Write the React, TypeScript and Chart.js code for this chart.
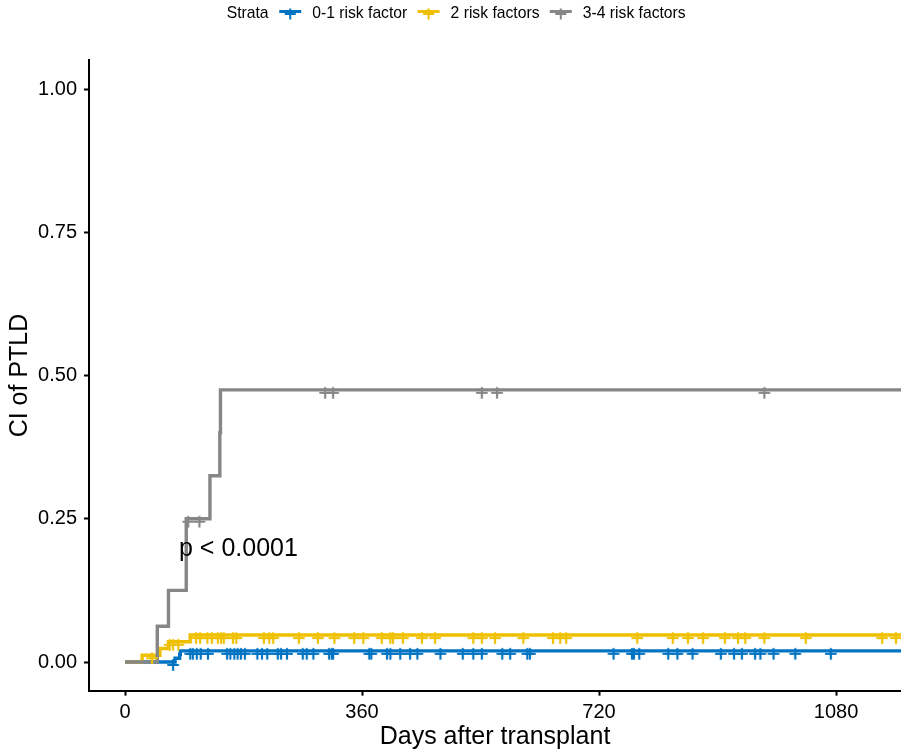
import React, { useEffect, useRef } from 'react';
import { Chart, registerables } from 'chart.js';

Chart.register(...registerables);

const FONT = "'Liberation Sans', Arial, Helvetica, sans-serif";

// ---- data ----
const seriesNames = ['0-1 risk factor', '2 risk factors', '3-4 risk factors'];
const seriesColors = ['#0073C2', '#EFC000', '#868686'];

// step times (days) and cumulative incidence after each step
const blueTimes = [0, 76, 83, 84, 1200];
const blueCI = [0, 0.0066, 0.013, 0.0195, 0.0195];
const yellowTimes = [0, 26, 53, 66, 99, 1200];
const yellowCI = [0, 0.0118, 0.0236, 0.0353, 0.047, 0.047];
const grayTimes = [0, 49, 66, 93, 129, 144, 145, 1200];
const grayCI = [0, 0.0625, 0.125, 0.25, 0.325, 0.4, 0.475, 0.475];

// censoring times (days)
const blueCensor = [
  73, 99, 103, 109, 115, 126, 155, 160, 166, 171, 176, 182, 201, 208, 216, 232, 237, 246,
  270, 276, 286, 310, 314, 316, 371, 374, 398, 403, 418, 433, 444, 479, 513, 529, 542,
  573, 585, 611, 615, 742, 770, 773, 781, 825, 839, 862, 905, 925, 937, 957, 965, 985,
  1018, 1072,
];
const yellowCensor = [
  41, 68, 73, 81, 108, 114, 125, 132, 141, 146, 150, 164, 169, 211, 219, 225, 264, 293,
  318, 348, 362, 390, 403, 407, 422, 451, 471, 529, 542, 562, 605, 650, 661, 670, 778,
  832, 855, 878, 911, 931, 942, 971, 1034, 1150, 1171,
];
const grayCensor = [96, 113, 304, 316, 542, 565, 971];

const xTicks = [0, 360, 720, 1080];
const yTicks = [0, 0.25, 0.5, 0.75, 1];
const xLimits = [-54.7, 1178.6];
const yLimits = [-0.05, 1.05];
const xTitle = 'Days after transplant';
const yTitle = 'CI of PTLD';
const legendTitle = 'Strata';
const pValueText = 'p < 0.0001';
const pValuePos = [82, 0.197];

// ---- helpers ----
function stepLevel(times: number[], ci: number[], t: number) {
  let v = ci[0];
  for (let i = 0; i < times.length; i++) {
    if (times[i] <= t) v = ci[i];
  }
  return v;
}

function makeCross(color: string) {
  const c = document.createElement('canvas');
  c.width = 14;
  c.height = 20;
  const g = c.getContext('2d')!;
  g.strokeStyle = color;
  g.lineWidth = 2.2;
  const cx = 7;
  const cy = 13;
  const a = 5.8;
  g.beginPath();
  g.moveTo(cx - a, cy);
  g.lineTo(cx + a, cy);
  g.moveTo(cx, cy - a);
  g.lineTo(cx, cy + a);
  g.stroke();
  return c;
}

const legendPlugin = {
  id: 'topLegend',
  afterDraw(chart: any) {
    const ctx = chart.ctx;
    ctx.save();
    ctx.font = `15.7px ${FONT}`;
    ctx.fillStyle = '#000';
    ctx.textBaseline = 'middle';
    ctx.textAlign = 'left';
    const y = 13.5;
    let x = 226.7;
    ctx.fillText(legendTitle, x, y);
    x += ctx.measureText(legendTitle).width + 10.7;
    seriesNames.forEach((name, i) => {
      ctx.strokeStyle = seriesColors[i];
      ctx.lineWidth = 3;
      ctx.beginPath();
      ctx.moveTo(x, 11.5);
      ctx.lineTo(x + 22, 11.5);
      ctx.stroke();
      ctx.lineWidth = 2;
      ctx.beginPath();
      ctx.moveTo(x + 11, 8.5);
      ctx.lineTo(x + 11, 19.5);
      ctx.moveTo(x + 5.5, 14);
      ctx.lineTo(x + 16.5, 14);
      ctx.stroke();
      x += 22 + 11;
      ctx.fillStyle = '#000';
      ctx.fillText(name, x, y);
      x += ctx.measureText(name).width + 10.3;
    });
    ctx.restore();
  },
};

const pValuePlugin = {
  id: 'pValue',
  afterDatasetsDraw(chart: any) {
    const ctx = chart.ctx;
    const xs = chart.scales.x;
    const ys = chart.scales.y;
    ctx.save();
    ctx.font = `25px ${FONT}`;
    ctx.fillStyle = '#000';
    ctx.textAlign = 'left';
    ctx.textBaseline = 'middle';
    ctx.fillText(pValueText, xs.getPixelForValue(pValuePos[0]), ys.getPixelForValue(pValuePos[1]));
    ctx.restore();
  },
};

export default function App() {
  const ref = useRef<HTMLCanvasElement>(null);

  useEffect(() => {
    const canvas = ref.current;
    if (!canvas) return;
    Chart.defaults.font.family = FONT;
    Chart.defaults.color = '#000';

    const curves = [
      { times: blueTimes, ci: blueCI, censor: blueCensor },
      { times: yellowTimes, ci: yellowCI, censor: yellowCensor },
      { times: grayTimes, ci: grayCI, censor: grayCensor },
    ];

    const lineSets = curves.map((c, i) => ({
      label: seriesNames[i],
      data: c.times.map((t, k) => ({ x: t, y: c.ci[k] })),
      borderColor: seriesColors[i],
      backgroundColor: seriesColors[i],
      borderWidth: 3.4,
      stepped: true,
      pointRadius: 0,
      fill: false,
      order: 6 - i,
    }));

    const censorSets = curves.map((c, i) => ({
      label: seriesNames[i] + ' censor',
      data: c.censor.map((t) => ({ x: t, y: stepLevel(c.times, c.ci, t) })),
      showLine: false,
      borderColor: seriesColors[i],
      backgroundColor: seriesColors[i],
      pointStyle: makeCross(seriesColors[i]),
      pointRadius: 6,
      order: 3 - i,
    }));

    const chart = new Chart(canvas, {
      type: 'line',
      data: { datasets: [...lineSets, ...censorSets] as any },
      options: {
        animation: false,
        responsive: false,
        events: [],
        layout: { autoPadding: false, padding: { top: 60.35, left: 0, right: 0, bottom: 0 } },
        plugins: {
          legend: { display: false },
          tooltip: { enabled: false },
        },
        scales: {
          x: {
            type: 'linear',
            min: xLimits[0],
            max: xLimits[1],
            afterFit: (s: any) => {
              s.height = 62.35;
              s.paddingLeft = 0;
              s.paddingRight = 0;
            },
            afterBuildTicks: (s: any) => {
              s.ticks = xTicks.map((v) => ({ value: v }));
            },
            ticks: {
              font: { size: 20 },
              color: '#000',
              padding: 5,
              maxRotation: 0,
              autoSkip: false,
              callback: (v: any) => String(v),
            },
            grid: {
              drawOnChartArea: false,
              drawTicks: true,
              tickLength: 5,
              tickWidth: 2,
              tickColor: '#000',
            },
            border: { display: true, color: '#000', width: 2 },
            title: {
              display: true,
              text: xTitle,
              font: { size: 25 },
              color: '#000',
              padding: { top: 0, bottom: 1 },
            },
          },
          y: {
            type: 'linear',
            min: yLimits[0],
            max: yLimits[1],
            afterFit: (s: any) => {
              s.width = 89;
              s.paddingTop = 0;
              s.paddingBottom = 0;
            },
            afterBuildTicks: (s: any) => {
              s.ticks = yTicks.map((v) => ({ value: v }));
            },
            ticks: {
              font: { size: 20 },
              color: '#000',
              padding: 7,
              autoSkip: false,
              callback: (v: any) => Number(v).toFixed(2),
            },
            grid: {
              drawOnChartArea: false,
              drawTicks: true,
              tickLength: 5,
              tickWidth: 2,
              tickColor: '#000',
            },
            border: { display: true, color: '#000', width: 2 },
            title: {
              display: true,
              text: yTitle,
              font: { size: 25 },
              color: '#000',
              padding: { top: 5, bottom: 0 },
            },
          },
        },
      } as any,
      plugins: [legendPlugin, pValuePlugin],
    });

    return () => chart.destroy();
  }, []);

  return (
    <div style={{ position: 'absolute', left: 0, top: 0, width: 901, height: 753, background: '#fff' }}>
      <canvas ref={ref} width={901} height={753} style={{ display: 'block', width: 901, height: 753 }} />
    </div>
  );
}
